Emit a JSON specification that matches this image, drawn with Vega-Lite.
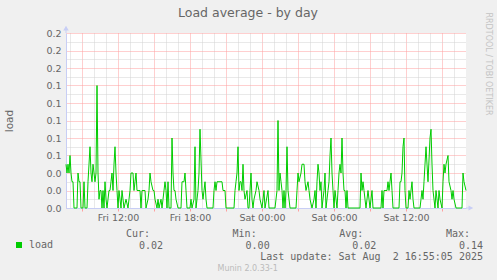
{
  "$schema": "https://vega.github.io/schema/vega-lite/v6.json",
  "width": 400,
  "height": 175,
  "autosize": {"type": "none"},
  "padding": {"left": 66, "top": 33, "right": 31, "bottom": 72},
  "background": "#f0f0f0",
  "config": {"view": {"fill": "#ffffff", "stroke": null}, "font": "DejaVu Sans"},
  "title": {"text": "Load average - by day", "font": "DejaVu Sans", "fontSize": 12.5, "fontWeight": "normal", "color": "#666666", "anchor": "middle", "frame": "group", "dx": -18, "offset": -7},
  "datasets": {
    "load": [
      {"t":"2025-08-01T07:40Z","v":0.05},{"t":"2025-08-01T07:45Z","v":0.04},{"t":"2025-08-01T07:50Z","v":0.05},{"t":"2025-08-01T07:55Z","v":0.04},
      {"t":"2025-08-01T08:00Z","v":0.06},{"t":"2025-08-01T08:05Z","v":0.04},{"t":"2025-08-01T08:10Z","v":0.03},{"t":"2025-08-01T08:15Z","v":0.03},
      {"t":"2025-08-01T08:20Z","v":0},{"t":"2025-08-01T08:35Z","v":0},{"t":"2025-08-01T08:40Z","v":0.04},{"t":"2025-08-01T08:45Z","v":0.03},
      {"t":"2025-08-01T08:50Z","v":0.03},{"t":"2025-08-01T08:55Z","v":0},{"t":"2025-08-01T09:05Z","v":0},{"t":"2025-08-01T09:10Z","v":0.03},
      {"t":"2025-08-01T09:15Z","v":0},{"t":"2025-08-01T09:25Z","v":0},{"t":"2025-08-01T09:30Z","v":0.03},{"t":"2025-08-01T09:35Z","v":0.05},
      {"t":"2025-08-01T09:40Z","v":0.07},{"t":"2025-08-01T09:45Z","v":0.04},{"t":"2025-08-01T09:50Z","v":0.03},{"t":"2025-08-01T09:55Z","v":0.05},
      {"t":"2025-08-01T10:00Z","v":0.04},{"t":"2025-08-01T10:05Z","v":0.03},{"t":"2025-08-01T10:10Z","v":0.04},{"t":"2025-08-01T10:15Z","v":0.14},
      {"t":"2025-08-01T10:20Z","v":0.04},{"t":"2025-08-01T10:25Z","v":0.01},{"t":"2025-08-01T10:30Z","v":0.02},{"t":"2025-08-01T10:35Z","v":0.02},
      {"t":"2025-08-01T10:40Z","v":0},{"t":"2025-08-01T10:45Z","v":0.02},{"t":"2025-08-01T10:50Z","v":0},{"t":"2025-08-01T10:55Z","v":0.03},
      {"t":"2025-08-01T11:00Z","v":0.01},{"t":"2025-08-01T11:05Z","v":0},{"t":"2025-08-01T11:10Z","v":0.01},{"t":"2025-08-01T11:15Z","v":0.02},
      {"t":"2025-08-01T11:20Z","v":0.02},{"t":"2025-08-01T11:25Z","v":0.03},{"t":"2025-08-01T11:30Z","v":0.04},{"t":"2025-08-01T11:35Z","v":0.02},
      {"t":"2025-08-01T11:40Z","v":0.05},{"t":"2025-08-01T11:45Z","v":0.07},{"t":"2025-08-01T11:50Z","v":0.04},{"t":"2025-08-01T11:55Z","v":0.02},
      {"t":"2025-08-01T12:00Z","v":0},{"t":"2025-08-01T12:05Z","v":0.02},{"t":"2025-08-01T12:10Z","v":0.01},{"t":"2025-08-01T12:15Z","v":0},
      {"t":"2025-08-01T12:20Z","v":0.02},{"t":"2025-08-01T12:30Z","v":0},{"t":"2025-08-01T12:40Z","v":0.01},{"t":"2025-08-01T12:50Z","v":0},
      {"t":"2025-08-01T12:55Z","v":0.01},{"t":"2025-08-01T13:00Z","v":0.02},{"t":"2025-08-01T13:05Z","v":0.04},{"t":"2025-08-01T13:15Z","v":0.04},
      {"t":"2025-08-01T13:20Z","v":0.02},{"t":"2025-08-01T13:25Z","v":0.03},{"t":"2025-08-01T13:30Z","v":0.04},{"t":"2025-08-01T13:35Z","v":0.02},
      {"t":"2025-08-01T13:50Z","v":0.02},{"t":"2025-08-01T13:55Z","v":0},{"t":"2025-08-01T14:00Z","v":0.02},{"t":"2025-08-01T14:15Z","v":0.02},
      {"t":"2025-08-01T14:20Z","v":0},{"t":"2025-08-01T14:30Z","v":0.01},{"t":"2025-08-01T14:35Z","v":0.02},{"t":"2025-08-01T14:40Z","v":0.04},
      {"t":"2025-08-01T14:45Z","v":0.03},{"t":"2025-08-01T14:55Z","v":0.02},{"t":"2025-08-01T15:00Z","v":0.02},{"t":"2025-08-01T15:05Z","v":0.01},
      {"t":"2025-08-01T15:15Z","v":0},{"t":"2025-08-01T15:20Z","v":0.01},{"t":"2025-08-01T15:25Z","v":0},{"t":"2025-08-01T15:35Z","v":0.01},
      {"t":"2025-08-01T15:40Z","v":0},{"t":"2025-08-01T15:45Z","v":0.01},{"t":"2025-08-01T15:55Z","v":0.03},
      {"t":"2025-08-01T16:00Z","v":0.02},{"t":"2025-08-01T16:05Z","v":0},{"t":"2025-08-01T16:10Z","v":0.03},{"t":"2025-08-01T16:15Z","v":0},
      {"t":"2025-08-01T16:25Z","v":0},{"t":"2025-08-01T16:30Z","v":0.08},{"t":"2025-08-01T16:35Z","v":0.04},{"t":"2025-08-01T16:40Z","v":0.02},
      {"t":"2025-08-01T16:45Z","v":0.02},{"t":"2025-08-01T16:50Z","v":0.01},{"t":"2025-08-01T17:00Z","v":0},{"t":"2025-08-01T17:15Z","v":0},
      {"t":"2025-08-01T17:20Z","v":0.03},{"t":"2025-08-01T17:30Z","v":0.03},{"t":"2025-08-01T17:35Z","v":0.04},{"t":"2025-08-01T17:40Z","v":0.02},
      {"t":"2025-08-01T17:45Z","v":0},{"t":"2025-08-01T18:00Z","v":0},{"t":"2025-08-01T18:05Z","v":0.01},{"t":"2025-08-01T18:10Z","v":0},
      {"t":"2025-08-01T18:20Z","v":0.01},{"t":"2025-08-01T18:25Z","v":0.07},{"t":"2025-08-01T18:30Z","v":0},{"t":"2025-08-01T18:40Z","v":0.02},
      {"t":"2025-08-01T18:45Z","v":0.04},{"t":"2025-08-01T18:50Z","v":0.09},{"t":"2025-08-01T19:00Z","v":0.02},{"t":"2025-08-01T19:05Z","v":0.01},
      {"t":"2025-08-01T19:10Z","v":0.02},{"t":"2025-08-01T19:15Z","v":0.03},{"t":"2025-08-01T19:20Z","v":0.01},{"t":"2025-08-01T19:25Z","v":0},
      {"t":"2025-08-01T19:55Z","v":0},{"t":"2025-08-01T20:00Z","v":0.02},{"t":"2025-08-01T20:05Z","v":0.03},{"t":"2025-08-01T20:10Z","v":0.02},
      {"t":"2025-08-01T20:15Z","v":0.03},{"t":"2025-08-01T20:40Z","v":0.03},{"t":"2025-08-01T20:45Z","v":0.02},{"t":"2025-08-01T20:55Z","v":0.02},
      {"t":"2025-08-01T21:00Z","v":0},{"t":"2025-08-01T21:40Z","v":0},{"t":"2025-08-01T21:45Z","v":0.02},{"t":"2025-08-01T21:50Z","v":0.03},
      {"t":"2025-08-01T21:55Z","v":0.04},{"t":"2025-08-01T22:00Z","v":0.07},{"t":"2025-08-01T22:05Z","v":0.02},{"t":"2025-08-01T22:10Z","v":0.03},
      {"t":"2025-08-01T22:15Z","v":0.03},{"t":"2025-08-01T22:20Z","v":0.02},{"t":"2025-08-01T22:25Z","v":0.05},{"t":"2025-08-01T22:30Z","v":0.02},
      {"t":"2025-08-01T22:35Z","v":0.01},{"t":"2025-08-01T22:45Z","v":0.02},{"t":"2025-08-01T22:50Z","v":0},{"t":"2025-08-01T22:55Z","v":0},
      {"t":"2025-08-01T23:00Z","v":0.02},{"t":"2025-08-01T23:05Z","v":0.04},{"t":"2025-08-01T23:10Z","v":0.01},{"t":"2025-08-01T23:15Z","v":0},
      {"t":"2025-08-01T23:20Z","v":0.01},{"t":"2025-08-01T23:30Z","v":0.02},{"t":"2025-08-01T23:35Z","v":0.03},{"t":"2025-08-01T23:45Z","v":0.02},
      {"t":"2025-08-01T23:50Z","v":0.01},
      {"t":"2025-08-02T00:00Z","v":0},{"t":"2025-08-02T00:10Z","v":0.02},{"t":"2025-08-02T00:15Z","v":0},{"t":"2025-08-02T00:30Z","v":0.02},
      {"t":"2025-08-02T00:35Z","v":0},{"t":"2025-08-02T01:05Z","v":0},{"t":"2025-08-02T01:10Z","v":0.01},{"t":"2025-08-02T01:15Z","v":0.02},
      {"t":"2025-08-02T01:20Z","v":0.10},{"t":"2025-08-02T01:25Z","v":0.02},{"t":"2025-08-02T01:30Z","v":0.04},{"t":"2025-08-02T01:35Z","v":0.03},
      {"t":"2025-08-02T01:40Z","v":0.02},{"t":"2025-08-02T01:45Z","v":0},{"t":"2025-08-02T01:50Z","v":0.02},{"t":"2025-08-02T01:55Z","v":0},
      {"t":"2025-08-02T02:00Z","v":0.02},{"t":"2025-08-02T02:05Z","v":0.07},{"t":"2025-08-02T02:10Z","v":0.02},{"t":"2025-08-02T02:15Z","v":0.01},
      {"t":"2025-08-02T02:20Z","v":0},{"t":"2025-08-02T02:50Z","v":0},{"t":"2025-08-02T02:55Z","v":0.02},{"t":"2025-08-02T03:00Z","v":0.04},
      {"t":"2025-08-02T03:05Z","v":0.03},{"t":"2025-08-02T03:15Z","v":0.04},{"t":"2025-08-02T03:20Z","v":0.05},{"t":"2025-08-02T03:30Z","v":0.05},
      {"t":"2025-08-02T03:35Z","v":0.03},{"t":"2025-08-02T03:40Z","v":0.02},{"t":"2025-08-02T03:50Z","v":0.03},{"t":"2025-08-02T03:55Z","v":0.02},
      {"t":"2025-08-02T04:00Z","v":0.01},{"t":"2025-08-02T04:10Z","v":0},{"t":"2025-08-02T04:20Z","v":0.01},{"t":"2025-08-02T04:25Z","v":0.02},
      {"t":"2025-08-02T04:30Z","v":0},{"t":"2025-08-02T04:35Z","v":0.03},{"t":"2025-08-02T04:40Z","v":0.05},{"t":"2025-08-02T04:45Z","v":0.04},
      {"t":"2025-08-02T04:50Z","v":0.02},{"t":"2025-08-02T04:55Z","v":0.03},{"t":"2025-08-02T05:00Z","v":0},{"t":"2025-08-02T05:05Z","v":0.01},
      {"t":"2025-08-02T05:10Z","v":0.02},{"t":"2025-08-02T05:15Z","v":0.04},{"t":"2025-08-02T05:20Z","v":0},{"t":"2025-08-02T05:30Z","v":0.02},
      {"t":"2025-08-02T05:35Z","v":0.03},{"t":"2025-08-02T05:40Z","v":0.06},{"t":"2025-08-02T05:45Z","v":0.08},{"t":"2025-08-02T05:50Z","v":0.04},
      {"t":"2025-08-02T05:55Z","v":0.02},{"t":"2025-08-02T06:00Z","v":0},{"t":"2025-08-02T06:05Z","v":0.02},{"t":"2025-08-02T06:15Z","v":0},
      {"t":"2025-08-02T06:20Z","v":0.02},{"t":"2025-08-02T06:25Z","v":0.04},{"t":"2025-08-02T06:30Z","v":0.05},{"t":"2025-08-02T06:35Z","v":0.04},
      {"t":"2025-08-02T06:40Z","v":0.08},{"t":"2025-08-02T06:45Z","v":0.04},{"t":"2025-08-02T06:50Z","v":0.02},{"t":"2025-08-02T06:55Z","v":0.02},
      {"t":"2025-08-02T07:00Z","v":0},{"t":"2025-08-02T07:05Z","v":0.02},{"t":"2025-08-02T07:10Z","v":0},{"t":"2025-08-02T08:10Z","v":0},
      {"t":"2025-08-02T08:15Z","v":0.04},{"t":"2025-08-02T08:20Z","v":0.02},{"t":"2025-08-02T08:25Z","v":0.03},{"t":"2025-08-02T08:30Z","v":0.02},
      {"t":"2025-08-02T08:35Z","v":0.01},{"t":"2025-08-02T08:40Z","v":0},{"t":"2025-08-02T08:50Z","v":0.02},{"t":"2025-08-02T08:55Z","v":0.01},
      {"t":"2025-08-02T09:00Z","v":0},{"t":"2025-08-02T09:10Z","v":0.02},{"t":"2025-08-02T09:15Z","v":0},{"t":"2025-08-02T09:55Z","v":0},
      {"t":"2025-08-02T10:00Z","v":0.02},{"t":"2025-08-02T10:05Z","v":0},{"t":"2025-08-02T10:10Z","v":0.02},{"t":"2025-08-02T10:25Z","v":0.02},
      {"t":"2025-08-02T10:30Z","v":0.03},{"t":"2025-08-02T10:35Z","v":0.02},{"t":"2025-08-02T10:40Z","v":0.03},{"t":"2025-08-02T10:45Z","v":0.04},
      {"t":"2025-08-02T10:50Z","v":0.02},{"t":"2025-08-02T10:55Z","v":0},{"t":"2025-08-02T11:25Z","v":0},{"t":"2025-08-02T11:30Z","v":0.03},
      {"t":"2025-08-02T11:35Z","v":0.03},{"t":"2025-08-02T11:40Z","v":0.04},{"t":"2025-08-02T11:45Z","v":0.07},{"t":"2025-08-02T11:50Z","v":0.08},
      {"t":"2025-08-02T11:55Z","v":0.02},{"t":"2025-08-02T12:00Z","v":0},{"t":"2025-08-02T12:10Z","v":0},{"t":"2025-08-02T12:15Z","v":0.02},
      {"t":"2025-08-02T12:20Z","v":0.01},{"t":"2025-08-02T12:30Z","v":0.03},{"t":"2025-08-02T12:35Z","v":0.01},{"t":"2025-08-02T12:40Z","v":0},
      {"t":"2025-08-02T13:10Z","v":0},{"t":"2025-08-02T13:15Z","v":0.01},{"t":"2025-08-02T13:20Z","v":0.02},{"t":"2025-08-02T13:25Z","v":0.01},
      {"t":"2025-08-02T13:30Z","v":0.03},{"t":"2025-08-02T13:35Z","v":0.05},{"t":"2025-08-02T13:40Z","v":0.07},{"t":"2025-08-02T13:45Z","v":0.05},
      {"t":"2025-08-02T13:50Z","v":0.03},{"t":"2025-08-02T14:00Z","v":0.08},{"t":"2025-08-02T14:05Z","v":0.09},{"t":"2025-08-02T14:10Z","v":0.05},
      {"t":"2025-08-02T14:15Z","v":0.02},{"t":"2025-08-02T14:20Z","v":0.01},{"t":"2025-08-02T14:25Z","v":0},{"t":"2025-08-02T14:30Z","v":0.02},
      {"t":"2025-08-02T14:40Z","v":0},{"t":"2025-08-02T14:45Z","v":0.02},{"t":"2025-08-02T14:50Z","v":0.01},{"t":"2025-08-02T15:00Z","v":0},
      {"t":"2025-08-02T15:05Z","v":0.03},{"t":"2025-08-02T15:10Z","v":0.05},{"t":"2025-08-02T15:15Z","v":0.04},{"t":"2025-08-02T15:20Z","v":0.05},
      {"t":"2025-08-02T15:30Z","v":0.06},{"t":"2025-08-02T15:35Z","v":0.03},{"t":"2025-08-02T15:45Z","v":0.02},{"t":"2025-08-02T15:50Z","v":0.01},
      {"t":"2025-08-02T15:55Z","v":0.02},{"t":"2025-08-02T16:00Z","v":0.01},{"t":"2025-08-02T16:10Z","v":0},{"t":"2025-08-02T16:40Z","v":0},
      {"t":"2025-08-02T16:45Z","v":0.04},{"t":"2025-08-02T16:50Z","v":0.03},{"t":"2025-08-02T17:00Z","v":0.02}
    ],
    "stats": [
      {"stat": "Cur:", "value": 0.02},
      {"stat": "Min:", "value": 0.00},
      {"stat": "Avg:", "value": 0.02},
      {"stat": "Max:", "value": 0.14}
    ]
  },
  "layer": [
    {
      "layer": [
        {
          "data": {"name": "load"},
          "mark": {"type": "line", "strokeWidth": 1, "interpolate": "linear"},
          "encoding": {
            "x": {
              "field": "t", "type": "temporal",
              "scale": {"type": "utc", "domain": [{"year": 2025, "month": 8, "date": 1, "hours": 7, "minutes": 40, "utc": true}, {"year": 2025, "month": 8, "date": 2, "hours": 17, "minutes": 0, "utc": true}]},
              "axis": {
                "orient": "bottom", "title": null,
                "values": [1754035200000, 1754038800000, 1754042400000, 1754046000000, 1754049600000, 1754053200000, 1754056800000, 1754060400000, 1754064000000, 1754067600000, 1754071200000, 1754074800000, 1754078400000, 1754082000000, 1754085600000, 1754089200000, 1754092800000, 1754096400000, 1754100000000, 1754103600000, 1754107200000, 1754110800000, 1754114400000, 1754118000000, 1754121600000, 1754125200000, 1754128800000, 1754132400000, 1754136000000, 1754139600000, 1754143200000, 1754146800000, 1754150400000],
                "format": "%a %H:%M",
                "labelExpr": "datum.value % 21600000 == 0 ? datum.label : ''",
                "labelColor": "#666666",
                "labelFont": "DejaVu Sans", "labelFontSize": 9.5, "labelPadding": 1,
                "labelOverlap": false, "labelFlush": false, "labelBound": false,
                "tickSize": 3, "tickWidth": 1,
                "tickColor": {"condition": {"test": "datum.value % 10800000 == 0", "value": "#ff9f9f"}, "value": "transparent"},
                "domainColor": "#c8cef5", "domainWidth": 1,
                "grid": true, "gridDash": [1, 1], "gridWidth": 1, "gridOpacity": 1,
                "gridColor": {"condition": {"test": "datum.value % 10800000 == 0", "value": "#ff9f9f"}, "value": "#d2d2d2"}
              }
            },
            "y": {
              "field": "v", "type": "quantitative",
              "scale": {"domain": [0, 0.2], "nice": false, "zero": true},
              "axis": {
                "orient": "left",
                "values": [0, 0.01, 0.02, 0.03, 0.04, 0.05, 0.06, 0.07, 0.08, 0.09, 0.1, 0.11, 0.12, 0.13, 0.14, 0.15, 0.16, 0.17, 0.18, 0.19, 0.2],
                "labelExpr": "round(datum.value * 100) % 2 == 0 ? format(datum.value, '.1f') : ''",
                "labelColor": "#666666", "labelFont": "DejaVu Sans", "labelFontSize": 9.5, "labelPadding": 5,
                "labelOverlap": false, "labelFlush": false, "labelBound": false,
                "ticks": false,
                "domainColor": "#c8cef5", "domainWidth": 1,
                "grid": true, "gridDash": [1, 1], "gridWidth": 1, "gridOpacity": 1,
                "gridColor": {"condition": {"test": "round(datum.value * 100) % 2 == 0", "value": "#ff9f9f"}, "value": "#d2d2d2"},
                "title": "load", "titleColor": "#666666", "titleFont": "DejaVu Sans", "titleFontSize": 10.5, "titleFontWeight": "normal", "titlePadding": 31
              }
            },
            "color": {
              "datum": "load",
              "scale": {"range": ["#00cc00"]},
              "legend": {
                "orient": "none", "legendX": -52, "legendY": 207, "title": null, "padding": 0,
                "symbolType": "square", "symbolSize": 36, "symbolStrokeWidth": 0, "symbolFillColor": "#00cc00",
                "labelFont": "DejaVu Sans Mono", "labelFontSize": 10, "labelColor": "#666666", "labelOffset": 5,
                "encode": {"symbols": {"update": {"fill": {"value": "#00cc00"}, "stroke": {"value": "transparent"}, "shape": {"value": "square"}, "size": {"value": 36}}}}
              }
            }
          }
        },
        {
          "data": {"values": [{}]},
          "mark": {"type": "point", "shape": "M -0.1 0 L 0.1 0 L 0.1 -0.5 L 0.55 -0.5 L 0 -1.45 L -0.55 -0.5 L -0.1 -0.5 Z", "size": 100, "filled": true, "color": "#c8cef5", "opacity": 1, "clip": false},
          "encoding": {
            "x": {"datum": {"year": 2025, "month": 8, "date": 1, "hours": 7, "minutes": 40, "utc": true}, "type": "temporal", "scale": {"type": "utc"}, "axis": null},
            "y": {"datum": 0.2, "type": "quantitative", "axis": null}
          }
        },
        {
          "data": {"values": [{}]},
          "mark": {"type": "point", "shape": "M 0 -0.1 L 0.5 -0.1 L 0.5 -0.5 L 1.45 0 L 0.5 0.5 L 0.5 0.1 L 0 0.1 Z", "size": 100, "filled": true, "color": "#c8cef5", "opacity": 1, "clip": false},
          "encoding": {
            "x": {"datum": {"year": 2025, "month": 8, "date": 2, "hours": 17, "minutes": 0, "utc": true}, "type": "temporal", "scale": {"type": "utc"}, "axis": null},
            "y": {
              "datum": 0, "type": "quantitative",
              "axis": {
                "orient": "right", "labels": false, "ticks": false, "domain": false, "grid": false,
                "title": "RRDTOOL / TOBI OETIKER", "titleAngle": 90, "titleFont": "DejaVu Sans", "titleFontSize": 8, "titleFontWeight": "normal",
                "titleColor": "#c4c4c4", "titlePadding": 17, "titleAlign": "left", "titleBaseline": "bottom", "titleY": -21
              }
            }
          }
        }
      ],
      "resolve": {"axis": {"x": "independent", "y": "independent"}}
    },
    {
      "data": {"name": "stats"},
      "mark": {"type": "text", "align": "right", "baseline": "middle", "dx": -13, "font": "DejaVu Sans Mono", "fontSize": 10, "color": "#666666"},
      "encoding": {
        "x": {"field": "stat", "type": "nominal", "scale": {"type": "point", "domain": ["Cur:", "Min:", "Avg:", "Max:"], "range": [97, 417], "padding": 0}, "axis": null},
        "y": {"datum": "head", "type": "nominal", "scale": {"type": "point", "domain": ["head", "vals", "update", "munin"], "range": [201, 236], "padding": 0}, "axis": null},
        "text": {"field": "stat", "type": "nominal"}
      }
    },
    {
      "data": {"name": "stats"},
      "mark": {"type": "text", "align": "right", "baseline": "middle", "font": "DejaVu Sans Mono", "fontSize": 10, "color": "#666666"},
      "encoding": {
        "x": {"field": "stat", "type": "nominal", "scale": {"type": "point", "domain": ["Cur:", "Min:", "Avg:", "Max:"], "range": [97, 417], "padding": 0}, "axis": null},
        "y": {"datum": "vals", "type": "nominal", "scale": {"type": "point", "domain": ["head", "vals", "update", "munin"], "range": [201, 236], "padding": 0}, "axis": null},
        "text": {"field": "value", "type": "quantitative", "format": ".2f"}
      }
    },
    {
      "data": {"values": [{"line": "Last update: Sat Aug\u00a0 2 16:55:05 2025"}]},
      "mark": {"type": "text", "align": "right", "baseline": "middle", "font": "DejaVu Sans Mono", "fontSize": 10, "color": "#666666"},
      "encoding": {
        "x": {"datum": "Max:", "type": "nominal", "scale": {"type": "point", "domain": ["Cur:", "Min:", "Avg:", "Max:"], "range": [97, 417], "padding": 0}, "axis": null},
        "y": {"datum": "update", "type": "nominal", "scale": {"type": "point", "domain": ["head", "vals", "update", "munin"], "range": [201, 236], "padding": 0}, "axis": null},
        "text": {"field": "line", "type": "nominal"}
      }
    },
    {
      "data": {"values": [{"line": "Munin 2.0.33-1"}]},
      "mark": {"type": "text", "align": "center", "baseline": "middle", "dx": -22, "font": "DejaVu Sans", "fontSize": 8, "color": "#bbbbbb"},
      "encoding": {
        "x": {"datum": "Min:", "type": "nominal", "scale": {"type": "point", "domain": ["Cur:", "Min:", "Avg:", "Max:"], "range": [97, 417], "padding": 0}, "axis": null},
        "y": {"datum": "munin", "type": "nominal", "scale": {"type": "point", "domain": ["head", "vals", "update", "munin"], "range": [201, 236], "padding": 0}, "axis": null},
        "text": {"field": "line", "type": "nominal"}
      }
    }
  ],
  "resolve": {"scale": {"x": "independent", "y": "independent"}}
}
